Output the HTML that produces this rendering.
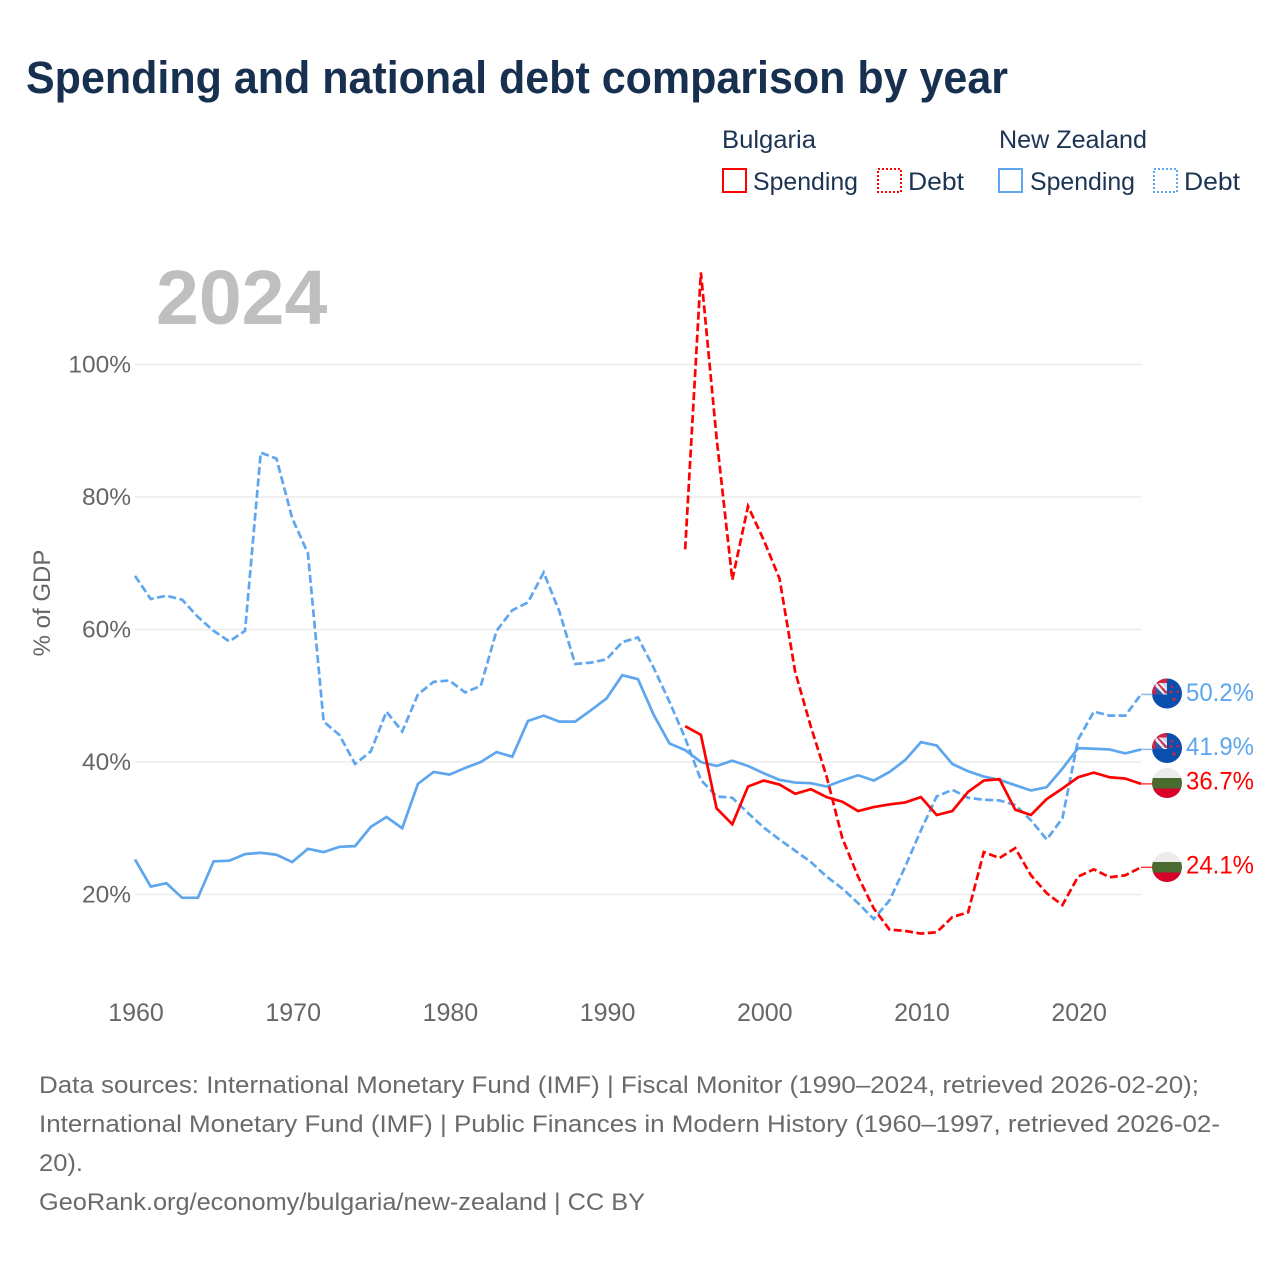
<!DOCTYPE html>
<html lang="en">
<head>
<meta charset="utf-8">
<title>Spending and national debt comparison by year</title>
<style>
html,body{margin:0;padding:0;background:#fff;}
body{width:1280px;height:1280px;overflow:hidden;}
svg{display:block;}
text{font-family:"Liberation Sans",sans-serif;}
</style>
</head>
<body>
<svg id="chart" xmlns="http://www.w3.org/2000/svg" width="1280" height="1280" viewBox="0 0 1280 1280">
  <defs>
    <clipPath id="clip-nz-a"><circle cx="1167" cy="693.5" r="15"/></clipPath>
    <clipPath id="clip-nz-b"><circle cx="1167" cy="748" r="15"/></clipPath>
    <clipPath id="clip-bg-a"><circle cx="1167" cy="783" r="15"/></clipPath>
    <clipPath id="clip-bg-b"><circle cx="1167" cy="867" r="15"/></clipPath>
    <g id="nz-flag-art">
      <rect x="-15" y="-15" width="30" height="30" fill="#0b4fae"/>
      <rect x="-15" y="-15" width="15" height="16" fill="#d8213f"/>
      <rect x="-11.5" y="-10.5" width="11.5" height="11.5" fill="#f2f2f5"/>
      <polygon points="-11.5,-7 -11.5,1 -3.5,1" fill="#2f5fa8"/>
      <polygon points="-6,-10.5 0,-10.5 0,-4.5" fill="#c9d6ea"/>
      <polygon points="-10.5,-10.5 -8.5,-10.5 0,-2 0,0 -2,0" fill="#c93a55"/>
      <circle cx="5" cy="-7" r="1.3" fill="#d8213f"/>
      <circle cx="4" cy="-1.5" r="1.4" fill="#d8213f"/>
      <circle cx="11" cy="-2" r="1.3" fill="#d8213f"/>
      <circle cx="7" cy="6" r="1.6" fill="#d8213f"/>
    </g>
    <g id="bg-flag-art">
      <rect x="-15" y="-15" width="30" height="10" fill="#ececec"/>
      <rect x="-15" y="-5" width="30" height="10.5" fill="#4a6b2f"/>
      <rect x="-15" y="5.5" width="30" height="10" fill="#d6002a"/>
    </g>
  </defs>

  <text x="26" y="93" font-size="45" font-weight="700" fill="#18304f" textLength="982" lengthAdjust="spacingAndGlyphs">Spending and national debt comparison by year</text>

  <g fill="#1c3454" font-size="25">
    <text x="722" y="148" textLength="94" lengthAdjust="spacingAndGlyphs">Bulgaria</text>
    <text x="999" y="148" textLength="148" lengthAdjust="spacingAndGlyphs">New Zealand</text>
    <g>
      <rect x="723" y="169" width="23" height="23" fill="none" stroke="#ff0000" stroke-width="2"/>
      <text x="753" y="190" textLength="105" lengthAdjust="spacingAndGlyphs">Spending</text>
    </g>
    <g>
      <rect x="878" y="169" width="23" height="23" fill="none" stroke="#ff0000" stroke-width="2" stroke-dasharray="2 2"/>
      <text x="908" y="190" textLength="56" lengthAdjust="spacingAndGlyphs">Debt</text>
    </g>
    <g>
      <rect x="999" y="169" width="23" height="23" fill="none" stroke="#5ea6ee" stroke-width="2"/>
      <text x="1030" y="190" textLength="105" lengthAdjust="spacingAndGlyphs">Spending</text>
    </g>
    <g>
      <rect x="1154" y="169" width="23" height="23" fill="none" stroke="#5ea6ee" stroke-width="2" stroke-dasharray="2 2"/>
      <text x="1184" y="190" textLength="56" lengthAdjust="spacingAndGlyphs">Debt</text>
    </g>
  </g>

  <text x="156" y="324" font-size="77" font-weight="700" fill="#bfbfbf">2024</text>

  <text transform="translate(50,603) rotate(-90)" text-anchor="middle" font-size="24" fill="#666666">% of GDP</text>

  <g id="grid"></g>
  <g id="yticks"></g>
  <g id="xticks"></g>
  <g id="series"></g>

  <g clip-path="url(#clip-nz-a)"><use href="#nz-flag-art" x="1167" y="693.5"/></g>
  <g clip-path="url(#clip-nz-b)"><use href="#nz-flag-art" x="1167" y="748"/></g>
  <g clip-path="url(#clip-bg-a)"><use href="#bg-flag-art" x="1167" y="783"/></g>
  <g clip-path="url(#clip-bg-b)"><use href="#bg-flag-art" x="1167" y="867"/></g>

  <g id="endlabels"></g>

  <g font-size="24" fill="#6a6a6a">
    <text x="39" y="1093" textLength="1160" lengthAdjust="spacingAndGlyphs">Data sources: International Monetary Fund (IMF) | Fiscal Monitor (1990–2024, retrieved 2026-02-20);</text>
    <text x="39" y="1132" textLength="1181" lengthAdjust="spacingAndGlyphs">International Monetary Fund (IMF) | Public Finances in Modern History (1960–1997, retrieved 2026-02-</text>
    <text x="39" y="1171" textLength="44" lengthAdjust="spacingAndGlyphs">20).</text>
    <text x="39" y="1210" textLength="606" lengthAdjust="spacingAndGlyphs">GeoRank.org/economy/bulgaria/new-zealand | CC BY</text>
  </g>
</svg>

<script>
var xTickYears = [1960, 1970, 1980, 1990, 2000, 2010, 2020];
var yTickValues = [20, 40, 60, 80, 100];

var nzDebtStartYear = 1960;
var nzDebt = [68.1,64.6,65.1,64.5,61.9,59.8,58.2,59.8,86.7,85.8,76.8,71.5,46.1,44.1,39.7,41.6,47.6,44.6,50.2,52.1,52.3,50.5,51.5,59.8,62.9,64.1,68.6,62.7,54.8,55.0,55.5,58.1,58.8,54.2,49.1,43.6,37.3,34.8,34.6,32.3,30.1,28.3,26.6,24.9,22.7,20.9,18.7,16.3,19.1,24.2,29.7,34.8,35.8,34.6,34.3,34.2,33.5,31.2,28.3,31.5,43.4,47.6,47.0,47.0,50.2];

var nzSpendingStartYear = 1960;
var nzSpending = [25.3,21.2,21.7,19.5,19.5,25.0,25.1,26.1,26.3,26.0,24.9,26.9,26.4,27.2,27.3,30.2,31.7,30.0,36.7,38.5,38.1,39.1,40.0,41.5,40.8,46.2,47.0,46.1,46.1,47.8,49.6,53.1,52.5,47.1,42.8,41.8,40.0,39.4,40.2,39.4,38.3,37.3,36.9,36.8,36.3,37.2,38.0,37.2,38.5,40.3,43.0,42.5,39.7,38.6,37.8,37.3,36.5,35.7,36.2,39.0,42.1,42.0,41.9,41.3,41.9];

var bgDebtStartYear = 1995;
var bgDebt = [72.1,113.9,88.9,67.5,78.6,73.5,67.7,53.6,45.3,37.8,28.5,22.7,17.9,14.7,14.5,14.1,14.3,16.6,17.3,26.4,25.5,27.0,22.9,20.2,18.4,22.7,23.8,22.6,22.9,24.1];

var bgSpendingStartYear = 1995;
var bgSpending = [45.4,44.1,33.0,30.6,36.3,37.2,36.6,35.2,35.9,34.7,34.0,32.6,33.2,33.6,33.9,34.7,32.0,32.6,35.5,37.2,37.4,32.8,32.0,34.4,36.0,37.7,38.4,37.7,37.5,36.7];

var BLUE = '#5ea6ee';
var RED = '#ff0000';
var NS = 'http://www.w3.org/2000/svg';

function xScale(year) { return 135 + (year - 1960) * (1006 / 64); }
function yScale(value) { return 894.5 - (value - 20) * 6.625; }

function makeSvg(tag, attrs, parent) {
  var el = document.createElementNS(NS, tag);
  for (var key in attrs) { el.setAttribute(key, attrs[key]); }
  parent.appendChild(el);
  return el;
}

var gridGroup = document.getElementById('grid');
var yTickGroup = document.getElementById('yticks');
var xTickGroup = document.getElementById('xticks');
var seriesGroup = document.getElementById('series');
var endGroup = document.getElementById('endlabels');

yTickValues.forEach(function (v) {
  var line = makeSvg('line', {x1: 135, x2: 1141, y1: yScale(v), y2: yScale(v), stroke: '#ebebeb', 'stroke-width': 1.5}, gridGroup);
  
  
  var label = makeSvg('text', {x: 131, y: yScale(v) + 8, 'text-anchor': 'end', 'font-size': 24.5, fill: '#666666'}, yTickGroup);
  label.textContent = v + '%';
  
  
});

xTickYears.forEach(function (year) {
  var label = makeSvg('text', {x: xScale(year) + 1, y: 1021, 'text-anchor': 'middle', 'font-size': 25, fill: '#666666'}, xTickGroup);
  label.textContent = String(year);
  
  
});

function drawSeries(values, startYear, color, dashed, name) {
  var pts = values.map(function (v, i) {
    return xScale(startYear + i).toFixed(2) + ',' + yScale(v).toFixed(2);
  });
  var attrs = {points: pts.join(' '), fill: 'none', stroke: color, 'stroke-width': 2.7, 'stroke-linejoin': 'miter'};
  if (dashed) { attrs['stroke-dasharray'] = '8 3.5'; }
  var line = makeSvg('polyline', attrs, seriesGroup);
  
  
}

drawSeries(nzSpending, nzSpendingStartYear, BLUE, false, 'line-new-zealand-spending');
drawSeries(nzDebt, nzDebtStartYear, BLUE, true, 'line-new-zealand-debt');
drawSeries(bgDebt, bgDebtStartYear, RED, true, 'line-bulgaria-debt');
drawSeries(bgSpending, bgSpendingStartYear, RED, false, 'line-bulgaria-spending');

function drawEnd(values, color, labelY, name) {
  var last = values[values.length - 1];
  var y = yScale(last);
  var stub = makeSvg('line', {x1: 1141, x2: 1153, y1: y, y2: y, stroke: color, 'stroke-width': 1.5, opacity: 0.75}, endGroup);
  
  
  var label = makeSvg('text', {x: 1186, y: labelY, 'font-size': 25, fill: color, textLength: 68, lengthAdjust: 'spacingAndGlyphs'}, endGroup);
  label.textContent = last.toFixed(1) + '%';
  
  
}

drawEnd(nzDebt, BLUE, 701, 'new-zealand-debt');
drawEnd(nzSpending, BLUE, 755, 'new-zealand-spending');
drawEnd(bgSpending, RED, 789.5, 'bulgaria-spending');
drawEnd(bgDebt, RED, 873.5, 'bulgaria-debt');
</script>
</body>
</html>
